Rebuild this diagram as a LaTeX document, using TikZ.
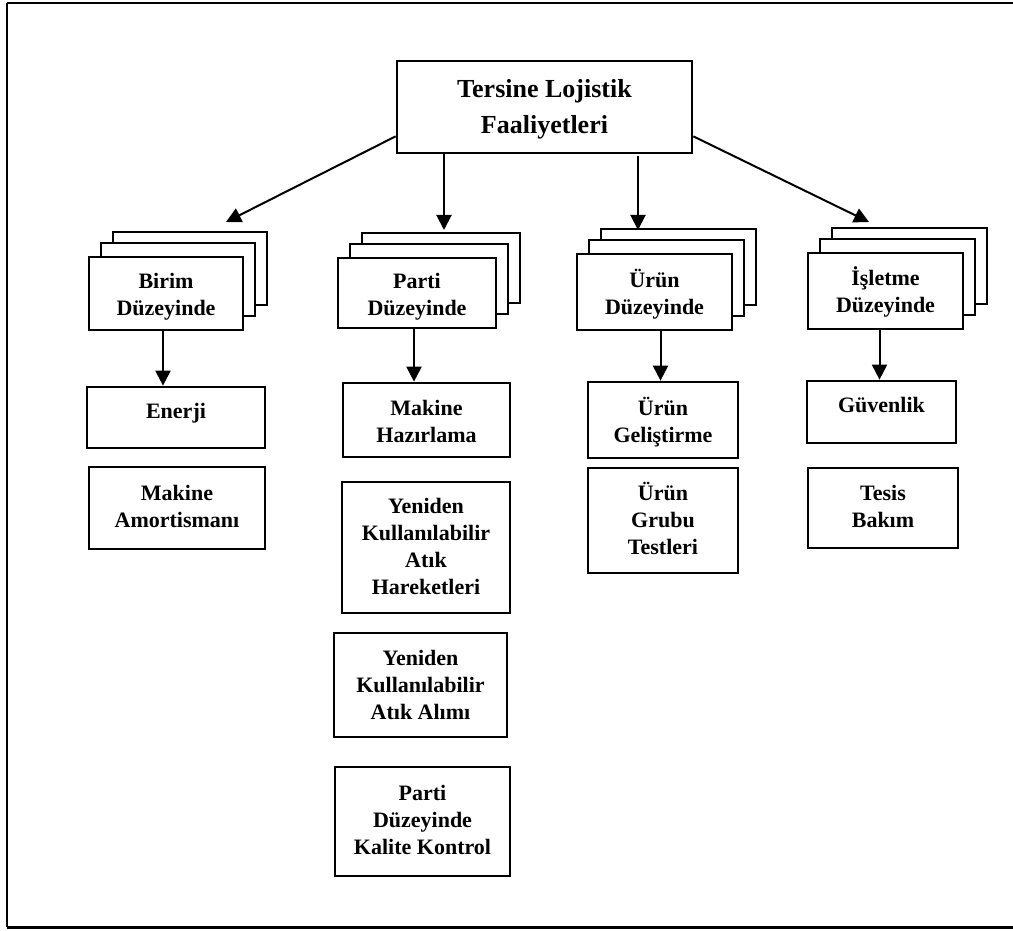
\documentclass[tikz,border=0pt]{standalone}
\usepackage{fontspec}
\setmainfont{Liberation Serif}
\usetikzlibrary{arrows.meta}

% box outline from corner coordinates (pixel units, y downwards)
\newcommand\bx[5]{%
  \node[box, minimum width={#4-#2}, minimum height={#5-#3}] (#1) at ({(#2+#4)/2},{(#3+#5)/2}) {};}
% three stacked sheets, front sheet given by its corners
\newcommand\stk[5]{%
  \node[box, minimum width={#4-#2}, minimum height={#5-#3}] (#1-b) at ({(#2+#4)/2+24},{(#3+#5)/2-25}) {};
  \node[box, minimum width={#4-#2}, minimum height={#5-#3}] (#1-m) at ({(#2+#4)/2+12},{(#3+#5)/2-14}) {};
  \node[box, minimum width={#4-#2}, minimum height={#5-#3}] (#1) at ({(#2+#4)/2},{(#3+#5)/2}) {};}
% text placed by the baseline of its first line
\newcommand\lb[4]{\node[lbl] (#1) at (#2,{#3-20}) {\rule{0pt}{20pt}#4};}

\begin{document}
\begin{tikzpicture}[x=1pt, y=-1pt,
  box/.style={draw=black, fill=white, line width=2.7pt, inner sep=0pt, rectangle},
  lbl/.style={align=center, inner sep=0pt, anchor=north,
    font=\fontsize{22}{27}\selectfont\bfseries},
  ttl/.style={align=center, inner sep=0pt, anchor=north,
    font=\fontsize{26}{36}\selectfont\bfseries},
  arr/.style={line width=2pt, -{Triangle[length=15pt, width=15pt]}},
  frame/.style={draw=black}]

\useasboundingbox (0,0) rectangle (1013,931);

% outer frame
\draw[frame, line width=2pt] (1013,3) -- (7,3);
\draw[frame, line width=1.5pt] (7,3) -- (7,927);
\draw[frame, line width=3pt] (7,927) -- (1013,927);

% root
\bx{top}{397}{61}{692}{153}
\node[ttl] (toptxt) at ({(397+692)/2},{97-23}) {\rule{0pt}{23pt}Tersine Lojistik\\Faaliyetleri};

% level boxes
\stk{birim}{89}{257}{243}{330}
\lb{birimtxt}{166}{288}{Birim\\Düzeyinde}
\stk{parti}{338}{258}{496}{328}
\lb{partitxt}{417}{288}{Parti\\Düzeyinde}
\stk{urun}{577}{254}{732}{330}
\lb{uruntxt}{654.5}{287}{Ürün\\Düzeyinde}
\stk{isl}{808}{253}{963}{329}
\lb{isltxt}{885.5}{285}{İşletme\\Düzeyinde}

% activities
\bx{enerji}{87}{387}{265}{448}
\lb{enerjitxt}{176}{418}{Enerji}
\bx{amort}{89}{467}{265}{549}
\lb{amorttxt}{177}{500}{Makine\\Amortismanı}

\bx{hazir}{343}{383}{510}{457}
\lb{hazirtxt}{426.5}{415}{Makine\\Hazırlama}
\bx{hareket}{342}{482}{510}{613}
\lb{hareketxt}{426}{513}{Yeniden\\Kullanılabilir\\Atık\\Hareketleri}
\bx{alim}{334}{633}{507}{737}
\lb{alimtxt}{420.5}{665}{Yeniden\\Kullanılabilir\\Atık Alımı}
\bx{kalite}{335}{767}{510}{876}
\lb{kalitetxt}{422.5}{800}{Parti\\Düzeyinde\\Kalite Kontrol}

\bx{gelis}{588}{382}{738}{458}
\lb{gelistxt}{663}{415}{Ürün\\Geliştirme}
\bx{grup}{588}{468}{738}{573}
\lb{gruptxt}{663}{500}{Ürün\\Grubu\\Testleri}

\bx{guven}{807}{381}{956}{443}
\lb{guventxt}{881.5}{412}{Güvenlik}
\bx{tesis}{808}{468}{958}{548}
\lb{tesistxt}{883}{500}{Tesis\\Bakım}

% connectors from the root
\coordinate (t1) at (226,222);
\coordinate (t2) at (444,230);
\coordinate (t3) at (638,230);
\coordinate (t4) at (869,222);
\draw[arr] ([yshift=18pt]top.south west) -- (t1);
\draw[arr] (top.south -| t2) -- (t2);
\draw[arr] ([yshift=-2pt]top.south -| t3) -- (t3);
\draw[arr] ([yshift=18pt]top.south east) -- (t4);

% connectors to the first activity of each level
\draw[arr] ([xshift=-3pt]birim.south) -- ([xshift=-3pt]birim.south |- enerji.north);
\draw[arr] ([xshift=-3pt]parti.south) -- ([xshift=-3pt]parti.south |- hazir.north);
\draw[arr] ([xshift=6pt]urun.south) -- ([xshift=6pt]urun.south |- gelis.north);
\draw[arr] ([xshift=-6pt]isl.south) -- ([xshift=-6pt]isl.south |- guven.north);

\end{tikzpicture}
\end{document}
